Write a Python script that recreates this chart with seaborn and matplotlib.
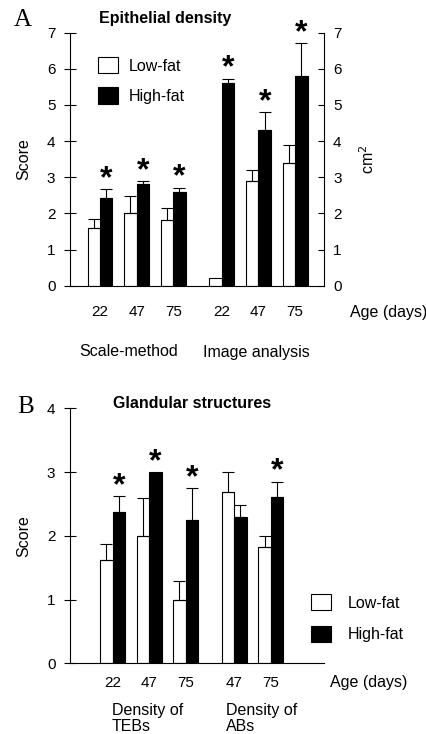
import numpy as np
import pandas as pd
import matplotlib
matplotlib.use("Agg")
import matplotlib.pyplot as plt
import seaborn as sns
from matplotlib.patches import Patch

# ---------------- data ----------------
diets = ["Low-fat", "High-fat"]

# Panel A: Epithelial density (scale-method 22/47/75, image analysis 22/47/75)
A_ages = ["22", "47", "75", "22", "47", "75"]
A_low = [1.61, 2.00, 1.83, 0.22, 2.89, 3.40]
A_low_err = [0.24, 0.49, 0.31, 0.00, 0.30, 0.50]
A_high = [2.44, 2.81, 2.60, 5.62, 4.32, 5.81]
A_high_err = [0.23, 0.09, 0.11, 0.11, 0.48, 0.90]
A_sig = [True, True, True, True, True, True]
A_groups = ["Scale-method", "Image analysis"]

# Panel B: Glandular structures (TEBs 22/47/75, ABs 47/75)
B_ages = ["22", "47", "75", "47", "75"]
B_low = [1.62, 2.00, 1.00, 2.69, 1.83]
B_low_err = [0.25, 0.60, 0.29, 0.31, 0.17]
B_high = [2.38, 3.00, 2.25, 2.30, 2.61]
B_high_err = [0.24, 0.00, 0.50, 0.19, 0.24]
B_sig = [True, True, True, False, True]
B_groups = ["Density of\nTEBs", "Density of\nABs"]

# layout positions (category slots, with a wider gap between method groups)
A_pos = [0, 1, 2, 3.33, 4.33, 5.33]
B_pos = [0, 1, 2, 3.33, 4.33]

palette = {"Low-fat": "white", "High-fat": "black"}

sns.set_theme(style="ticks")
plt.rcParams["font.family"] = ["Liberation Sans", "DejaVu Sans"]
plt.rcParams["axes.linewidth"] = 0.8
plt.rcParams["text.color"] = "black"
plt.rcParams["axes.labelcolor"] = "black"
plt.rcParams["xtick.color"] = "black"
plt.rcParams["ytick.color"] = "black"
plt.rcParams["axes.edgecolor"] = "black"

W, H = 427, 734
fig = plt.figure(figsize=(W / 100, H / 100), dpi=100)


def fx(px):
    return px / W


def fy(py):
    return 1 - py / H


def panel(ax, pos, ages, low, low_err, high, high_err, sig, ymax, xlim, xpad):
    df = pd.DataFrame({
        "pos": list(pos) * 2,
        "value": list(low) + list(high),
        "diet": ["Low-fat"] * len(pos) + ["High-fat"] * len(pos),
    })
    sns.barplot(data=df, x="pos", y="value", hue="diet", hue_order=diets,
                palette=palette, native_scale=True, width=0.68, dodge=True,
                edgecolor="black", linewidth=0.8, errorbar=None, legend=False,
                ax=ax)
    containers = list(ax.containers)
    for cont, errs, is_high in zip(containers, [low_err, high_err], [False, True]):
        for i, (bar, e) in enumerate(zip(cont, errs)):
            x = bar.get_x() + bar.get_width() / 2
            h = bar.get_height()
            if e > 0:
                ax.errorbar(x, h, yerr=[[0], [e]], fmt="none", ecolor="black",
                            elinewidth=0.8, capsize=4, capthick=0.8, zorder=1)
            if is_high and sig[i]:
                ax.annotate("*", xy=(x, h + e), xytext=(0, 1.5),
                            textcoords="offset points", ha="center",
                            va="baseline", fontsize=23, fontweight="bold")
    ax.set_xlim(*xlim)
    ax.set_ylim(0, ymax)
    ax.set_yticks(range(0, ymax + 1))
    ax.set_xticks(pos)
    ax.set_xticklabels(ages)
    ax.set_xlabel("")
    ax.set_ylabel("Score", fontsize=11.5)
    ax.yaxis.set_label_coords((31 - 70) / 254, 0.5)
    ax.tick_params(axis="x", length=0, pad=xpad, labelsize=11)
    ax.tick_params(axis="y", direction="inout", length=9, width=0.8, pad=6,
                   labelsize=11)
    for s in ["top", "right"]:
        ax.spines[s].set_visible(False)


# ---------------- Panel A ----------------
axA = fig.add_axes([fx(70), fy(285.7), fx(324 - 70), (285.7 - 32.7) / H])
panel(axA, A_pos, A_ages, A_low, A_low_err, A_high, A_high_err, A_sig, 7,
      (-0.82, 6.12), 14)
twin = axA.twinx()
twin.set_ylim(0, 7)
twin.set_yticks(range(0, 8))
twin.tick_params(axis="y", direction="in", length=4.5, width=0.8, pad=6.5,
                 labelsize=11)
for s in ["top", "left", "bottom"]:
    twin.spines[s].set_visible(False)
twin.set_ylabel("cm$^2$", fontsize=11.5, labelpad=12)

handles = [Patch(facecolor=palette[d], edgecolor="black", linewidth=0.8) for d in diets]
axA.legend(handles, diets, loc="upper left", bbox_to_anchor=(fx(98), fy(57)),
           bbox_transform=fig.transFigure, frameon=False, borderpad=0,
           borderaxespad=0, handlelength=1.25, handleheight=1.2,
           labelspacing=0.85, handletextpad=0.7, fontsize=11.5)

fig.text(fx(165), fy(19), "Epithelial density", ha="center", va="center",
         fontsize=11.5, fontweight="bold")
fig.text(fx(23), fy(20.5), "A", ha="center", va="center", fontsize=18,
         family=["Liberation Serif", "DejaVu Serif"])
fig.text(fx(350), fy(312), "Age (days)", ha="left", va="center", fontsize=11.5)
fig.text(fx(129), fy(352), A_groups[0], ha="center", va="center", fontsize=11.5)
fig.text(fx(256.7), fy(352), A_groups[1], ha="center", va="center", fontsize=11.5)

# ---------------- Panel B ----------------
axB = fig.add_axes([fx(70), fy(663.3), fx(324 - 70), (663.3 - 408.3) / H])
panel(axB, B_pos, B_ages, B_low, B_low_err, B_high, B_high_err, B_sig, 4,
      (-1.17, 5.79), 9)
axB.legend(handles, diets, loc="upper left", bbox_to_anchor=(fx(310.7), fy(594)),
           bbox_transform=fig.transFigure, frameon=False, borderpad=0,
           borderaxespad=0, handlelength=1.25, handleheight=1.2,
           labelspacing=0.95, handletextpad=1.05, fontsize=11.5)

fig.text(fx(192.5), fy(404), "Glandular structures", ha="center", va="center",
         fontsize=11.5, fontweight="bold")
fig.text(fx(25.5), fy(407), "B", ha="center", va="center", fontsize=18,
         family=["Liberation Serif", "DejaVu Serif"])
fig.text(fx(330), fy(682), "Age (days)", ha="left", va="center", fontsize=11.5)
fig.text(fx(111.7), fy(703), B_groups[0], ha="left", va="top", fontsize=11.5,
         linespacing=1.05)
fig.text(fx(225.7), fy(703), B_groups[1], ha="left", va="top", fontsize=11.5,
         linespacing=1.05)

fig.savefig("out.png", dpi=100)
